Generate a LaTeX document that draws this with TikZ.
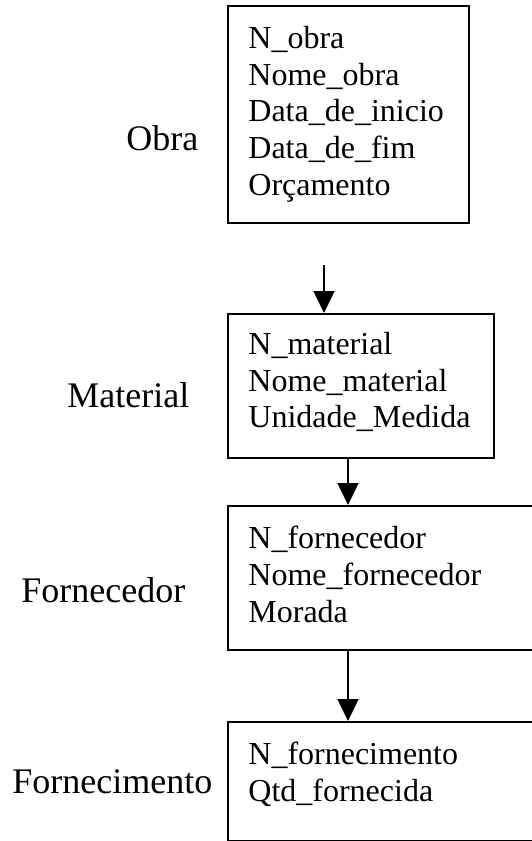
\documentclass[tikz,border=0pt]{standalone}
\usepackage{fontspec}
\setmainfont{Liberation Serif}
\usetikzlibrary{positioning}
\usetikzlibrary{arrows.meta}

\begin{document}
\begin{tikzpicture}[x=0.5pt,y=-0.5pt,
 entidade/.style={draw,line width=0.9pt,inner sep=0pt,anchor=north west},
 campos/.style={align=left,inner sep=0pt,anchor=north west,font=\fontsize{16}{18.3}\selectfont},
 nome/.style={inner sep=0pt,anchor=base west,font=\fontsize{18}{22}\selectfont},
 seta/.style={-{Triangle[width=10.5pt,length=11pt]},line width=0.8pt}]
 \useasboundingbox (0,0) rectangle (531,841);
 % caixas
 \node[entidade,minimum width=120.5pt,minimum height=108.5pt] (obra) at (227,5) {};
 \node[entidade,minimum width=133pt,minimum height=72pt] (material) at (227,313) {};
 \node[entidade,minimum width=159pt,minimum height=72pt] (fornecedor) at (227,505) {};
 \node[entidade,minimum width=159pt,minimum height=59.5pt] (fornecimento) at (227,721) {};
 % atributos
 \node[campos] (obra-c) at (248,26) {N\_obra\\Nome\_obra\\Data\_de\_inicio\\Data\_de\_fim\\Orçamento};
 \node[campos] (material-c) at (248,332) {N\_material\\Nome\_material\\Unidade\_Medida};
 \node[campos] (fornecedor-c) at (248,526) {N\_fornecedor\\Nome\_fornecedor\\Morada};
 \node[campos] (fornecimento-c) at (248,742) {N\_fornecimento\\Qtd\_fornecida};
 % nomes
 \node[nome] (obra-n) at (126,150) {Obra};
 \node[nome] (material-n) at (67,407) {Material};
 \node[nome] (fornecedor-n) at (21,602) {Fornecedor};
 \node[nome] (fornecimento-n) at (12,793) {Fornecimento};
 % setas
 \coordinate (s1) at (324,265);
 \coordinate (s2) at (348,0);
 \draw[seta] (s1) -- (s1 |- material.north);
 \draw[seta] (s2 |- material.south) -- (s2 |- fornecedor.north);
 \draw[seta] (s2 |- fornecedor.south) -- (s2 |- fornecimento.north);
\end{tikzpicture}
\end{document}
